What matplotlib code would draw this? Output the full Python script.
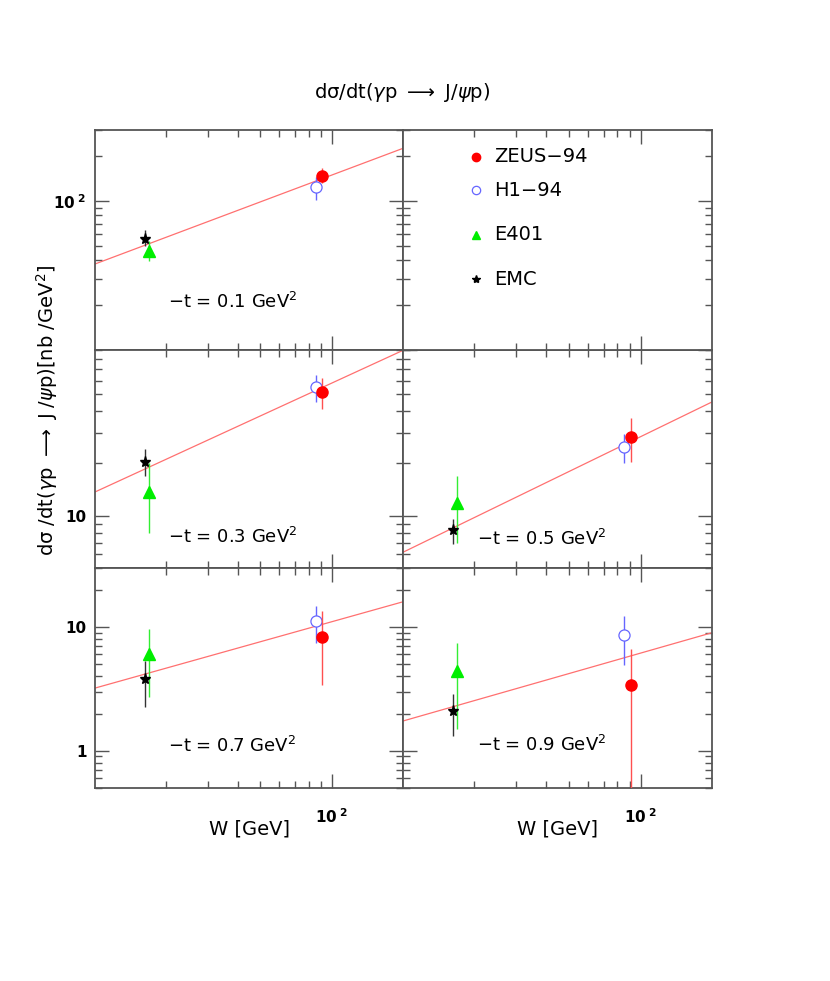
import numpy as np
import matplotlib
matplotlib.use('Agg')
import matplotlib.pyplot as plt
from matplotlib.ticker import FixedLocator, FixedFormatter, NullFormatter

# -t values of the five data panels
t_vals = [0.1, 0.3, 0.5, 0.7, 0.9]

# W positions [GeV] of each experiment
w_zeus = 91.0
w_h1 = 85.6
w_e401 = 16.9
w_emc = 16.3

# d sigma/dt [nb/GeV^2] and error bar ends, one entry per -t
zeus = [147.5, 51.6, 28.4, 8.35, 3.40]
zeus_lo = [133.0, 40.9, 20.4, 3.41, 0.3]
zeus_hi = [165.5, 62.4, 36.3, 13.5, 6.7]

h1 = [124.3, 55.1, 24.9, 11.2, 8.56]
h1_lo = [101.6, 45.0, 20.0, 7.46, 4.9]
h1_hi = [146.0, 64.9, 29.4, 14.8, 12.2]

e401 = [46.4, 13.7, 11.8, 6.07, 4.44]
e401_lo = [39.3, 8.0, 6.94, 2.71, 1.49]
e401_hi = [53.7, 20.0, 16.9, 9.7, 7.46]

emc = [55.7, 20.4, 8.28, 3.80, 2.09]
emc_lo = [49.7, 16.9, 6.87, 2.27, 1.31]
emc_hi = [64.4, 24.1, 9.57, 5.28, 2.86]

# fitted power law, value at the two ends of the W range
fit_w = [10.0, 200.0]
fit_start = [37.8, 13.7, 6.16, 3.21, 1.74]
fit_end = [226.0, 89.6, 45.2, 16.0, 9.0]

row_ylim = [(10, 300), (5, 90), (0.5, 30)]
row_ylabels = [([100], [r'$\mathbf{10^{\ 2}}$']),
               ([10], ['10']),
               ([1, 10], ['1', '10'])]

# panel slot (row, col) for each -t
slots = [(0, 0), (1, 0), (1, 1), (2, 0), (2, 1)]

axcol = '#555555'
fig = plt.figure(figsize=(8.3, 9.81), dpi=100)

W, H = 830.0, 981.0
col_x = [95, 403, 712]
row_y = [130, 350, 568, 788]


def make_ax(r, c):
    x0, x1 = col_x[c], col_x[c + 1]
    y0, y1 = row_y[r], row_y[r + 1]
    ax = fig.add_axes([x0 / W, 1 - y1 / H, (x1 - x0) / W, (y1 - y0) / H])
    ax.set_xscale('log')
    ax.set_yscale('log')
    ax.set_xlim(10, 200)
    ax.set_ylim(*row_ylim[r])
    for s in ax.spines.values():
        s.set_color(axcol)
        s.set_linewidth(1.3)
    ax.xaxis.set_major_locator(FixedLocator([100]))
    ax.xaxis.set_minor_locator(FixedLocator([20, 30, 40, 50, 60, 70, 80, 90]))
    ax.yaxis.set_minor_locator(FixedLocator(
        [v * d for d in (0.1, 1, 10, 100) for v in range(2, 10)]))
    allv = [0.1, 1, 10, 100, 1000]
    ax.yaxis.set_major_locator(FixedLocator(allv))
    ax.tick_params(which='both', direction='in', top=True, right=True,
                   color=axcol, width=1.0)
    ax.tick_params(which='major', length=10)
    ax.tick_params(which='minor', length=5)
    ax.yaxis.set_minor_formatter(NullFormatter())
    ax.xaxis.set_minor_formatter(NullFormatter())
    if c == 0:
        locs, labs = row_ylabels[r]
        ax.yaxis.set_major_formatter(FixedFormatter(
            [labs[locs.index(v)] if v in locs else '' for v in allv]))
        for lb in ax.get_yticklabels():
            lb.set_fontweight('bold')
        ax.tick_params(axis='y', labelsize=11, pad=6)
    else:
        ax.yaxis.set_major_formatter(NullFormatter())
    if r == 2:
        ax.xaxis.set_major_formatter(FixedFormatter([r'$\mathbf{10^{\ 2}}$']))
        ax.tick_params(axis='x', labelsize=11, pad=14)
        ax.set_xlabel('W [GeV]', fontsize=14, labelpad=-5)
    else:
        ax.xaxis.set_major_formatter(NullFormatter())
    return ax


def pts(ax, w, y, lo, hi, **kw):
    ax.errorbar([w], [y], yerr=[[y - lo], [hi - y]], capsize=0,
                elinewidth=1.0, linestyle='none', **kw)


label_pos = {(0, 0): (0.237, 0.218), (1, 0): (0.237, 0.144), (1, 1): (0.24, 0.133),
             (2, 0): (0.237, 0.19), (2, 1): (0.24, 0.195)}

for i, t in enumerate(t_vals):
    r, c = slots[i]
    ax = make_ax(r, c)
    ax.plot(fit_w, [fit_start[i], fit_end[i]], color='#ff7070', lw=0.9, zorder=2)
    pts(ax, w_emc, emc[i], emc_lo[i], emc_hi[i], marker='*', color='black',
        ms=8, ecolor='#333333', zorder=4)
    pts(ax, w_e401, e401[i], e401_lo[i], e401_hi[i], marker='^', color='#00ee00',
        ms=8, ecolor='#33ee33', zorder=3)
    pts(ax, w_h1, h1[i], h1_lo[i], h1_hi[i], marker='o', mfc='white', mec='#6666ff',
        ms=8, ecolor='#6666ff', mew=0.9, zorder=3)
    pts(ax, w_zeus, zeus[i], zeus_lo[i], zeus_hi[i], marker='o', color='#ff0000',
        ms=8, ecolor='#ff5050', zorder=4)
    lx, ly = label_pos[(r, c)]
    ax.text(lx, ly, r'$-$t = %.1f GeV$^2$' % t, transform=ax.transAxes,
            fontsize=13, ha='left', va='center')

# legend panel
lax = make_ax(0, 1)
leg_names = ['ZEUS-94', 'H1-94', 'E401', 'EMC']
leg_y = [0.879, 0.727, 0.523, 0.321]
leg_style = [dict(marker='o', color='#ff0000', ms=6),
             dict(marker='o', mfc='white', mec='#6666ff', ms=6, mew=0.9),
             dict(marker='^', color='#00ee00', ms=6),
             dict(marker='*', color='black', ms=6)]
for name, y, st in zip(leg_names, leg_y, leg_style):
    lax.plot([0.235], [y], transform=lax.transAxes, linestyle='none', **st)
    lax.text(0.295, y, name.replace('-', '\u2212'), transform=lax.transAxes,
             fontsize=14, ha='left', va='center')

fig.text(402 / W, 1 - 92 / H,
         'd\u03c3/dt($\\gamma$p $\\longrightarrow$ J/$\\psi$p)',
         fontsize=14, ha='center', va='center')
fig.text(47 / W, 1 - 410 / H,
         'd\u03c3 /dt($\\gamma$p $\\longrightarrow$ J /$\\psi$p)[nb /GeV$^2$]',
         fontsize=14, ha='center', va='center', rotation=90)

fig.savefig('out.png', dpi=100)
